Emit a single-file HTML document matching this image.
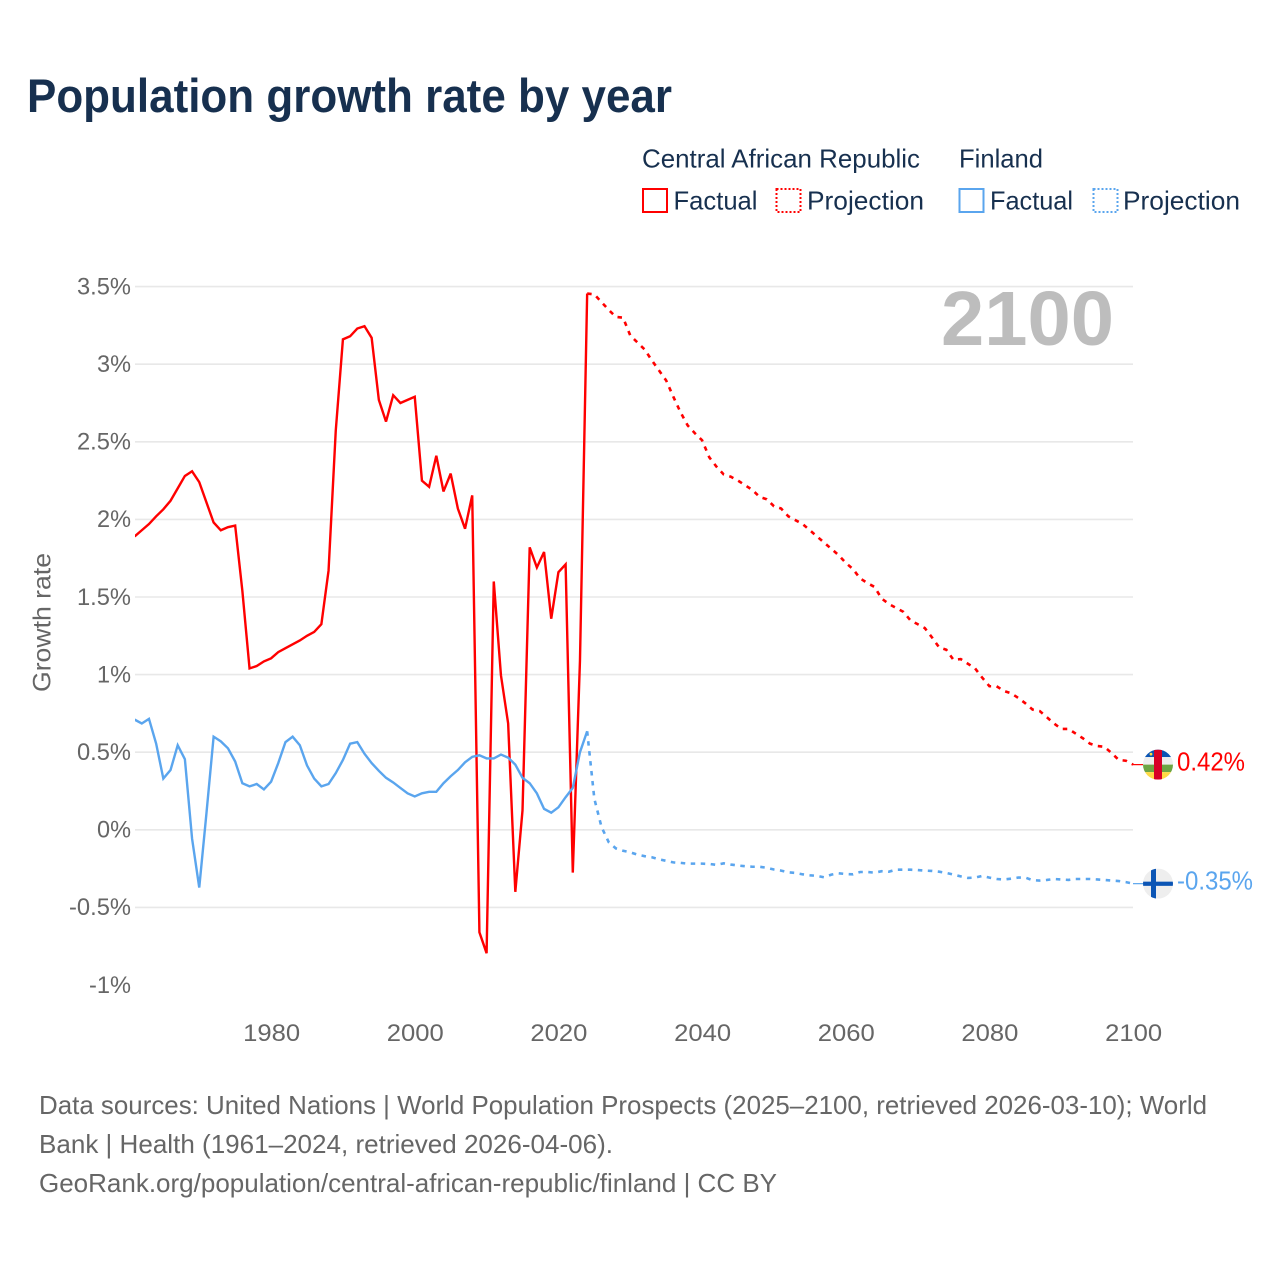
<!DOCTYPE html>
<html lang="en">
<head>
<meta charset="utf-8">
<title>Population growth rate by year</title>
<style>
html,body{margin:0;padding:0;background:#fff;}
svg{display:block;font-family:"Liberation Sans",sans-serif;}
</style>
</head>
<body>
<svg id="chart" xmlns="http://www.w3.org/2000/svg" width="1280" height="1280" viewBox="0 0 1280 1280">
  <defs>
    <clipPath id="plot-clip"><rect x="135" y="240" width="999" height="780"/></clipPath>
    <clipPath id="flag-clip-car"><circle cx="1158" cy="764" r="15"/></clipPath>
    <clipPath id="flag-clip-fin"><circle cx="1158" cy="883" r="15"/></clipPath>
  </defs>
  <rect width="1280" height="1280" fill="#ffffff"/>

  <text x="27" y="112" font-size="47.5" font-weight="700" fill="#17304f" textLength="645" lengthAdjust="spacingAndGlyphs">Population growth rate by year</text>

  <g font-size="26" fill="#17304f">
    <text x="642" y="167.5" textLength="278" lengthAdjust="spacingAndGlyphs">Central African Republic</text>
    <text x="959" y="167.5" textLength="84" lengthAdjust="spacingAndGlyphs">Finland</text>
    <g>
      <rect x="643" y="189" width="24" height="23" fill="none" stroke="#ff0000" stroke-width="2"/>
      <text x="673.5" y="209.5" textLength="84" lengthAdjust="spacingAndGlyphs">Factual</text>
    </g>
    <g>
      <rect x="776.5" y="189" width="24" height="23" fill="none" stroke="#ff0000" stroke-width="2" stroke-dasharray="2 2"/>
      <text x="807" y="209.5" textLength="117" lengthAdjust="spacingAndGlyphs">Projection</text>
    </g>
    <g>
      <rect x="959.5" y="189" width="24" height="23" fill="none" stroke="#5aa5ee" stroke-width="2"/>
      <text x="990" y="209.5" textLength="83" lengthAdjust="spacingAndGlyphs">Factual</text>
    </g>
    <g>
      <rect x="1093.5" y="189" width="24" height="23" fill="none" stroke="#5aa5ee" stroke-width="2" stroke-dasharray="2 2"/>
      <text x="1123" y="209.5" textLength="117" lengthAdjust="spacingAndGlyphs">Projection</text>
    </g>
  </g>

  <g id="grid"></g>
  <g id="y-ticks"></g>
  <g id="x-ticks"></g>

  <text transform="translate(50.5 692) rotate(-90)" font-size="25" fill="#666666" textLength="139" lengthAdjust="spacingAndGlyphs">Growth rate</text>

  <text x="941" y="345" font-size="77" font-weight="700" fill="#bdbdbd" textLength="173" lengthAdjust="spacingAndGlyphs">2100</text>

  <g id="series" clip-path="url(#plot-clip)"></g>
  <g id="end-markers"></g>

  <g font-size="26" fill="#666666">
    <text x="39" y="1114" textLength="1168" lengthAdjust="spacingAndGlyphs">Data sources: United Nations | World Population Prospects (2025–2100, retrieved 2026-03-10); World</text>
    <text x="39" y="1153" textLength="574" lengthAdjust="spacingAndGlyphs">Bank | Health (1961–2024, retrieved 2026-04-06).</text>
    <text x="39" y="1192" textLength="738" lengthAdjust="spacingAndGlyphs">GeoRank.org/population/central-african-republic/finland | CC BY</text>
  </g>
</svg>
<script>
const factualStartYear = 1961;
const lastFactualYear = 2024;
const yTickValues = [3.5, 3, 2.5, 2, 1.5, 1, 0.5, 0, -0.5, -1];
const yTickLabels = ['3.5%', '3%', '2.5%', '2%', '1.5%', '1%', '0.5%', '0%', '-0.5%', '-1%'];
const xTickYears = [1980, 2000, 2020, 2040, 2060, 2080, 2100];

const carFactual = [
  1.89, 1.93, 1.97, 2.02, 2.065, 2.12, 2.20, 2.28, 2.31, 2.24,
  2.11, 1.98, 1.93, 1.95, 1.96, 1.54, 1.04, 1.055, 1.085, 1.105,
  1.145, 1.17, 1.195, 1.22, 1.25, 1.275, 1.325, 1.67, 2.57, 3.16,
  3.18, 3.23, 3.245, 3.17, 2.77, 2.63, 2.80, 2.75, 2.77, 2.79,
  2.25, 2.21, 2.41, 2.18, 2.295, 2.07, 1.94, 2.155, -0.66, -0.795,
  1.60, 0.995, 0.685, -0.40, 0.125, 1.82, 1.69, 1.79, 1.36, 1.66,
  1.71, -0.276, 1.09, 3.455
];
const carProjection = [
  3.45, 3.40, 3.35, 3.305, 3.30, 3.185, 3.14, 3.095, 3.025, 2.96,
  2.895, 2.79, 2.69, 2.605, 2.555, 2.51, 2.40, 2.34, 2.29, 2.275,
  2.25, 2.22, 2.19, 2.145, 2.13, 2.085, 2.07, 2.02, 1.995, 1.97,
  1.93, 1.89, 1.85, 1.81, 1.77, 1.72, 1.68, 1.62, 1.59, 1.565,
  1.49, 1.455, 1.43, 1.405, 1.35, 1.325, 1.30, 1.24, 1.175, 1.16,
  1.095, 1.10, 1.07, 1.04, 0.98, 0.925, 0.925, 0.895, 0.88, 0.85,
  0.815, 0.775, 0.765, 0.725, 0.685, 0.65, 0.65, 0.62, 0.59, 0.555,
  0.54, 0.535, 0.495, 0.45, 0.445, 0.42
];
const finlandFactual = [
  0.71, 0.685, 0.715, 0.555, 0.33, 0.385, 0.545, 0.455, -0.057, -0.372,
  0.105, 0.60, 0.57, 0.525, 0.44, 0.30, 0.28, 0.295, 0.26, 0.31,
  0.43, 0.565, 0.60, 0.545, 0.415, 0.33, 0.28, 0.295, 0.365, 0.45,
  0.555, 0.565, 0.49, 0.43, 0.38, 0.335, 0.305, 0.27, 0.235, 0.215,
  0.235, 0.245, 0.245, 0.30, 0.345, 0.385, 0.435, 0.47, 0.48, 0.46,
  0.46, 0.485, 0.465, 0.42, 0.335, 0.30, 0.235, 0.135, 0.11, 0.145,
  0.21, 0.27, 0.50, 0.635
];
const finlandProjection = [
  0.20, 0.018, -0.08, -0.12, -0.135, -0.145, -0.16, -0.17, -0.177, -0.19,
  -0.20, -0.21, -0.213, -0.218, -0.218, -0.218, -0.22, -0.226, -0.216, -0.224,
  -0.23, -0.235, -0.238, -0.238, -0.245, -0.256, -0.263, -0.274, -0.278, -0.287,
  -0.293, -0.297, -0.306, -0.289, -0.28, -0.285, -0.287, -0.272, -0.272, -0.276,
  -0.267, -0.27, -0.257, -0.257, -0.257, -0.259, -0.263, -0.265, -0.27, -0.278,
  -0.289, -0.30, -0.31, -0.308, -0.297, -0.308, -0.317, -0.32, -0.315, -0.308,
  -0.308, -0.325, -0.327, -0.323, -0.317, -0.32, -0.323, -0.317, -0.317, -0.317,
  -0.32, -0.323, -0.327, -0.33, -0.337, -0.347
];

const SVG_NS = 'http://www.w3.org/2000/svg';
function xScale(year) { return 134.6 + (year - 1961) * (998.5 / 139); }
function yScale(value) { return 829.8 - 155.2 * value; }
function tickWidth(label) {
  let w = 0;
  for (const c of label) {
    if (c === '%') w += 20;
    else if (c === '.') w += 6;
    else if (c === '-') w += 8;
    else w += 14;
  }
  return w;
}
function linePath(startYear, values) {
  return values.map(function (v, i) {
    return (i ? 'L' : 'M') + xScale(startYear + i).toFixed(2) + ' ' + yScale(v).toFixed(2);
  }).join(' ');
}
function seriesPath(parent, d, color, dash) {
  const p = document.createElementNS(SVG_NS, 'path');
  p.setAttribute('d', d);
  p.setAttribute('fill', 'none');
  p.setAttribute('stroke', color);
  p.setAttribute('stroke-width', dash ? '2.6' : '2.4');
  p.setAttribute('stroke-linejoin', 'miter');
  p.setAttribute('stroke-miterlimit', '3');
  if (dash) p.setAttribute('stroke-dasharray', dash);
  parent.appendChild(p);
  return p;
}

const grid = document.getElementById('grid');
const yTicks = document.getElementById('y-ticks');
yTickValues.forEach(function (v, i) {
  if (v > -1) {
    const ln = document.createElementNS(SVG_NS, 'line');
    
    
    ln.setAttribute('x1', 135);
    ln.setAttribute('x2', 1133);
    ln.setAttribute('y1', yScale(v));
    ln.setAttribute('y2', yScale(v));
    ln.setAttribute('stroke', '#e8e8e8');
    ln.setAttribute('stroke-width', '1.6');
    grid.appendChild(ln);
  }
  const t = document.createElementNS(SVG_NS, 'text');
  
  
  const w = tickWidth(yTickLabels[i]);
  t.setAttribute('x', 131 - w);
  t.setAttribute('y', yScale(v) + 7.8);
  t.setAttribute('font-size', '24.5');
  t.setAttribute('fill', '#666666');
  t.setAttribute('textLength', w);
  t.setAttribute('lengthAdjust', 'spacingAndGlyphs');
  t.textContent = yTickLabels[i];
  yTicks.appendChild(t);
});

const xTicks = document.getElementById('x-ticks');
xTickYears.forEach(function (yr) {
  const t = document.createElementNS(SVG_NS, 'text');
  
  
  t.setAttribute('x', xScale(yr) - 28);
  t.setAttribute('y', 1041);
  t.setAttribute('font-size', '24.5');
  t.setAttribute('fill', '#666666');
  t.setAttribute('textLength', 57);
  t.setAttribute('lengthAdjust', 'spacingAndGlyphs');
  t.textContent = String(yr);
  xTicks.appendChild(t);
});

const seriesGroup = document.getElementById('series');
const carColor = '#ff0000';
const finColor = '#5aa5ee';
const carFactualLine = seriesPath(seriesGroup, linePath(factualStartYear, carFactual), carColor, null);


const carProjectionLine = seriesPath(seriesGroup, linePath(lastFactualYear, [carFactual[carFactual.length - 1]].concat(carProjection)), carColor, '4.5 5.5');


const finFactualLine = seriesPath(seriesGroup, linePath(factualStartYear, finlandFactual), finColor, null);


const finProjectionLine = seriesPath(seriesGroup, linePath(lastFactualYear, [finlandFactual[finlandFactual.length - 1]].concat(finlandProjection)), finColor, '4.5 5.5');



const markers = document.getElementById('end-markers');
function svgEl(parent, tag, attrs) {
  const e = document.createElementNS(SVG_NS, tag);
  Object.keys(attrs).forEach(function (k) { e.setAttribute(k, attrs[k]); });
  parent.appendChild(e);
  return e;
}
function endMarker(last, color, isCar) {
  const y = yScale(last);
  const leader = svgEl(markers, 'line', { x1: 1133, x2: 1143, y1: y, y2: y, stroke: color, 'stroke-width': 1.2 });
  
  
  const flag = svgEl(markers, 'g', { transform: 'translate(0 ' + (y - (isCar ? 764 : 883)) + ')' });
  
  
  if (isCar) {
    const g = svgEl(flag, 'g', { 'clip-path': 'url(#flag-clip-car)' });
    svgEl(g, 'rect', { x: 1143, y: 749, width: 30, height: 7.5, fill: '#0b55b5' });
    svgEl(g, 'rect', { x: 1143, y: 756.5, width: 30, height: 7.5, fill: '#eeeeee' });
    svgEl(g, 'rect', { x: 1143, y: 764, width: 30, height: 7.5, fill: '#6da544' });
    svgEl(g, 'rect', { x: 1143, y: 771.5, width: 30, height: 7.5, fill: '#ffda44' });
    svgEl(g, 'rect', { x: 1154, y: 749, width: 8, height: 30, fill: '#d80027' });
    svgEl(g, 'circle', { cx: 1151, cy: 753.5, r: 1.4, fill: '#ffda44' });
  } else {
    const g = svgEl(flag, 'g', { 'clip-path': 'url(#flag-clip-fin)' });
    svgEl(g, 'rect', { x: 1143, y: 868, width: 30, height: 30, fill: '#eeeeee' });
    svgEl(g, 'rect', { x: 1143, y: 881, width: 30, height: 4.2, fill: '#0b55b5' });
    svgEl(g, 'rect', { x: 1151, y: 868, width: 5, height: 30, fill: '#0b55b5' });
  }
  const label = svgEl(markers, 'text', {
    x: 1177, y: y + 6, 'font-size': 25.5, fill: color,
    textLength: isCar ? 68 : 76, lengthAdjust: 'spacingAndGlyphs'
  });
  
  
  label.textContent = last.toFixed(2) + '%';
}
endMarker(carProjection[carProjection.length - 1], carColor, true);
endMarker(finlandProjection[finlandProjection.length - 1], finColor, false);
</script>
</body>
</html>
